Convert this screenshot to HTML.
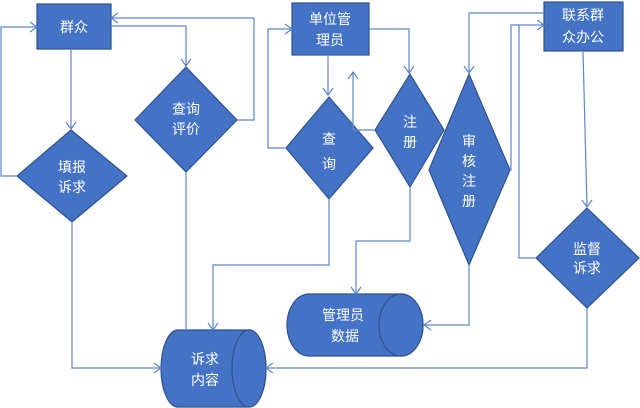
<!DOCTYPE html>
<html><head><meta charset="utf-8"><style>
html,body{margin:0;padding:0;background:#fff;}
svg{display:block;}
text{font-family:"Liberation Sans","Noto Sans CJK SC",sans-serif;font-size:14px;fill:#fff;text-anchor:middle;}
</style></head><body>
<svg width="640" height="408" viewBox="0 0 640 408" xmlns="http://www.w3.org/2000/svg">
<g fill="#4472C4" stroke="#2F528F" stroke-width="1.2">
<rect x="37" y="4" width="74" height="45"/>
<rect x="292" y="3" width="77" height="52"/>
<rect x="544" y="2" width="79" height="49"/>
<polygon points="71,130 127,176 72,222 17,176"/>
<polygon points="186,67 237,120 186,172 135,120"/>
<polygon points="329,97 373,148 329,199 286,148"/>
<polygon points="410,74 444,130 410,187 375,130"/>
<polygon points="469,74 510,170 469,265 429,170"/>
<polygon points="587,208 639,258 587,308 536,258"/>
<path d="M178,330 H249 A17,38.5 0 0 1 249,407 H178 A17,38.5 0 0 1 178,330 Z"/>
<ellipse cx="249" cy="368.5" rx="17" ry="38.5"/>
<path d="M309,294 H401 A22,31 0 0 1 401,356 H309 A22,31 0 0 1 309,294 Z"/>
<ellipse cx="401" cy="325" rx="22" ry="31"/>
</g>
<g fill="none" stroke="#5B85D0" stroke-width="1.2">
<polyline points="17,176 1,176 1,27 37,27"/>
<polyline points="30,22 37,27 30,32"/>
<line x1="71" y1="49" x2="71" y2="129"/>
<polyline points="66,122 71,129 76,122"/>
<polyline points="237,120 254,120 254,18 111,18"/>
<polyline points="118,13 111,18 118,23"/>
<polyline points="111,26 186,26 186,66"/>
<polyline points="181,59 186,66 191,59"/>
<line x1="186" y1="172" x2="186" y2="330"/>
<polyline points="72,222 72,368 161,368"/>
<polyline points="154,363 161,368 154,373"/>
<polyline points="329,199 329,265 213,265 213,330"/>
<polyline points="208,323 213,330 218,323"/>
<polyline points="286,148 268,148 268,29 292,29"/>
<polyline points="285,24 292,29 285,34"/>
<line x1="328" y1="55" x2="328" y2="95"/>
<polyline points="323,88 328,95 333,88"/>
<polyline points="369,29 409,29 409,73"/>
<polyline points="404,66 409,73 414,66"/>
<polyline points="353,130 375,130"/>
<line x1="353" y1="130" x2="353" y2="72"/>
<polyline points="348,79 353,72 358,79"/>
<polyline points="410,187 410,241 356,241 356,294"/>
<polyline points="351,287 356,294 361,287"/>
<polyline points="469,265 469,325 424,325"/>
<polyline points="431,320 424,325 431,330"/>
<polyline points="544,13 469,13 469,73"/>
<polyline points="464,66 469,73 474,66"/>
<polyline points="510,170 511,170 511,25 544,25"/>
<polyline points="537,20 544,25 537,30"/>
<polyline points="536,258 519,258 519,25"/>
<line x1="583" y1="51" x2="587" y2="207"/>
<polyline points="582,200 587,207 592,200"/>
<polyline points="587,308 587,368 266,368"/>
<polyline points="273,363 266,368 273,373"/>
</g>
<text x="74" y="32">群众</text>
<text x="330" y="24">单位管</text>
<text x="330" y="45">理员</text>
<text x="583" y="20">联系群</text>
<text x="583" y="42">众办公</text>
<text x="72" y="172">填报</text>
<text x="72" y="192">诉求</text>
<text x="186" y="114">查询</text>
<text x="186" y="134">评价</text>
<text x="329" y="144">查</text>
<text x="329" y="169">询</text>
<text x="410" y="127">注</text>
<text x="410" y="147">册</text>
<text x="469" y="146">审</text>
<text x="469" y="166">核</text>
<text x="469" y="186">注</text>
<text x="469" y="206">册</text>
<text x="587" y="254">监督</text>
<text x="587" y="273">诉求</text>
<text x="205" y="364">诉求</text>
<text x="205" y="385">内容</text>
<text x="343" y="320">管理员</text>
<text x="345" y="341">数据</text>
</svg>
</body></html>
